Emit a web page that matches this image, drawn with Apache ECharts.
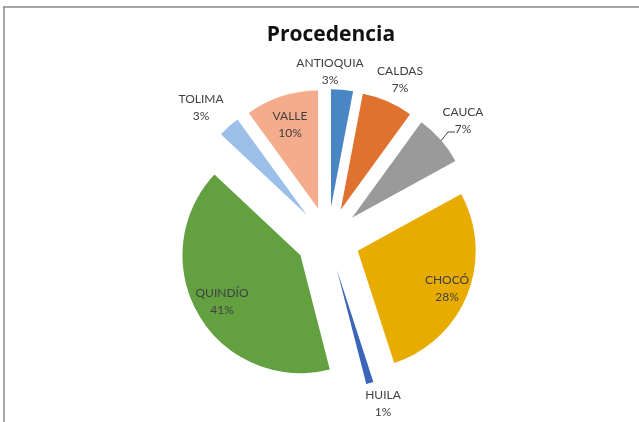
<!DOCTYPE html>
<html>
<head>
<meta charset="utf-8">
<script src="https://cdn.jsdelivr.net/npm/echarts@6/dist/echarts.min.js"></script>
<style>
  html, body { margin: 0; padding: 0; background: #fff; }
  #chart { width: 639px; height: 422px; }
</style>
</head>
<body>
<div id="chart"></div>
<script>
// datos de la gráfica
var regiones = ['ANTIOQUIA', 'CALDAS', 'CAUCA', 'CHOCÓ', 'HUILA', 'QUINDÍO', 'TOLIMA', 'VALLE'];
var porcentajes = [3, 7, 7, 28, 1, 41, 3, 10];
var colores = ['#4a86c5', '#e07230', '#9a9a9a', '#e8ac00', '#3a65b8', '#62a040', '#9bbfe8', '#f4ac8c'];
// etiquetas que van dentro del sector
var dentro = ['CHOCÓ', 'QUINDÍO', 'VALLE'];
// dónde queda el centro de cada etiqueta (como en el original de Excel)
var centrosEtiqueta = [[330, 72], [400, 80], [463, 121], [447, 289], [383, 404], [222, 302], [201, 108], [290, 125]];
// línea guía de CAUCA
var guiaCauca = [[440, 142], [448, 132], [455, 132]];

var separacion = 32;   // cuánto se separan las porciones

var chart = echarts.init(document.getElementById('chart'));

var total = porcentajes.reduce(function (a, b) { return a + b; }, 0);
var acumulado = 0;
// desplazamiento de cada porción al estar "seleccionada"
var desplazamientos = porcentajes.map(function (v) {
    var medio = (acumulado + v / 2) / total * Math.PI * 2;
    acumulado += v;
    return [separacion * Math.sin(medio), -separacion * Math.cos(medio)];
});

var datos = regiones.map(function (nombre, i) {
    var inside = dentro.indexOf(nombre) >= 0;
    return {
        name: nombre,
        value: porcentajes[i],
        selected: true,
        itemStyle: { color: colores[i] },
        label: { position: inside ? 'inside' : 'outside' },
        labelLine: { show: nombre === 'CAUCA' }
    };
});

chart.setOption({
    animation: false,
    title: {
        text: 'Procedencia',
        left: 326,
        top: 20,
        textAlign: 'center',
        textStyle: {
            fontFamily: 'Open Sans',
            fontSize: 21,
            fontWeight: 'bold',
            color: '#111'
        }
    },
    graphic: [
        { type: 'line', shape: { x1: 3, y1: 7, x2: 639, y2: 7 }, style: { stroke: '#8a8a8a', lineWidth: 1.5 } },
        { type: 'line', shape: { x1: 4, y1: 7, x2: 4, y2: 422 }, style: { stroke: '#8a8a8a', lineWidth: 1.5 } }
    ],
    series: [{
        type: 'pie',
        center: [328, 239],
        radius: 118,
        startAngle: 90,
        clockwise: true,
        selectedMode: 'multiple',
        selectedOffset: separacion,
        percentPrecision: 0,
        select: { itemStyle: {} },
        label: {
            formatter: '{b}\n{d}%',
            fontFamily: 'Lato',
            fontSize: 12,
            lineHeight: 17,
            color: '#404040'
        },
        labelLine: {
            length: 6,
            length2: 6,
            smooth: false,
            lineStyle: { color: '#404040', width: 1 }
        },
        labelLayout: function (params) {
            var i = params.dataIndex;
            var c = centrosEtiqueta[i];
            var off = desplazamientos[i];
            var r = params.labelRect;
            // punto de anclaje según la alineación que trae la etiqueta
            var ancla = r.x + r.width / 2;
            if (params.align === 'left') ancla = r.x;
            else if (params.align === 'right') ancla = r.x + r.width;
            var res = {
                dx: c[0] - ancla - off[0],
                dy: c[1] - (r.y + r.height / 2) - off[1],
                align: 'center'
            };
            if (regiones[i] === 'CAUCA') {
                res.labelLinePoints = guiaCauca.map(function (p) {
                    return [p[0] - off[0], p[1] - off[1]];
                });
            }
            return res;
        },
        data: datos
    }]
});
</script>
</body>
</html>
